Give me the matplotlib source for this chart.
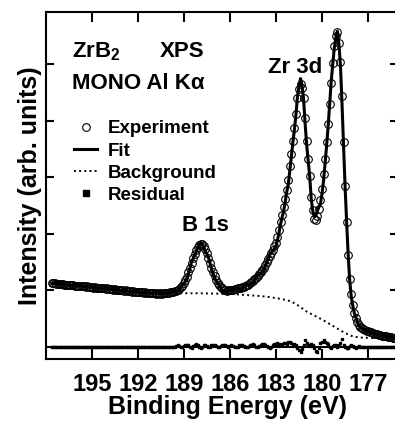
import numpy as np
import matplotlib
matplotlib.use("Agg")
import matplotlib.pyplot as plt
from matplotlib.lines import Line2D

plt.rcParams['font.family'] = ['Liberation Sans', 'DejaVu Sans']
plt.rcParams['font.weight'] = 'bold'
plt.rcParams['mathtext.fontset'] = 'custom'
plt.rcParams['mathtext.rm'] = 'Liberation Sans:bold'
plt.rcParams['mathtext.bf'] = 'Liberation Sans:bold'

# binding energy grid of the measurement (197.6 -> 175.2 eV, 0.1 eV step)
energy = np.linspace(197.6, 175.2, 225)

experiment = [
    # 197.6 - 190.1
    1.12, 1.125, 1.12, 1.115, 1.115, 1.11, 1.105, 1.11, 1.10, 1.095,
    1.10, 1.09, 1.09, 1.085, 1.09, 1.08, 1.08, 1.075, 1.08, 1.07,
    1.065, 1.07, 1.06, 1.065, 1.055, 1.05, 1.055, 1.045, 1.05, 1.04,
    1.045, 1.035, 1.04, 1.03, 1.03, 1.025, 1.03, 1.02, 1.025, 1.015,
    1.01, 1.015, 1.005, 1.01, 1.0, 0.995, 1.0, 0.99, 0.995, 0.985,
    0.98, 0.985, 0.975, 0.98, 0.97, 0.975, 0.965, 0.97, 0.96, 0.965,
    0.955, 0.96, 0.95, 0.955, 0.95, 0.945, 0.95, 0.945, 0.94, 0.945,
    0.94, 0.945, 0.94, 0.945, 0.95, 0.95,
    # 190.0 - 186.1  (B 1s)
    0.955, 0.96, 0.965, 0.97, 0.98, 0.99, 1.005, 1.025, 1.05, 1.08,
    1.12, 1.175, 1.24, 1.315, 1.395, 1.48, 1.565, 1.645, 1.716, 1.772,
    1.808, 1.82, 1.81, 1.777, 1.721, 1.65, 1.57, 1.485, 1.40, 1.32,
    1.245, 1.18, 1.125, 1.085, 1.055, 1.03, 1.005, 0.995, 0.99, 0.995,
    # 186.0 - 183.1
    1.0, 1.005, 1.01, 1.015, 1.02, 1.03, 1.04, 1.045, 1.05, 1.06,
    1.07, 1.085, 1.10, 1.12, 1.14, 1.165, 1.19, 1.22, 1.25, 1.285,
    1.32, 1.36, 1.40, 1.45, 1.50, 1.555, 1.61, 1.665, 1.72, 1.775,
    # 183.0 - 181.5
    1.83, 1.95, 2.07, 2.20, 2.33, 2.47, 2.62, 2.78, 2.95, 3.20,
    3.42, 3.65, 3.88, 4.12, 4.40, 4.56,
    # 181.4 - 180.5  (Zr 3d3/2)
    4.66, 4.58, 4.40, 4.06, 3.65, 3.32, 3.02, 2.65, 2.42, 2.27,
    # 180.4 - 179.1
    2.25, 2.32, 2.44, 2.60, 2.80, 3.05, 3.32, 3.62, 3.95, 4.30,
    4.68, 5.02, 5.32, 5.50,
    # 179.0 - 177.7  (Zr 3d5/2)
    5.58, 5.38, 5.05, 4.45, 3.62, 2.85, 2.20, 1.62, 1.20, 0.93,
    0.74, 0.60, 0.50, 0.43,
    # 177.6 - 175.2
    0.39, 0.35, 0.33, 0.31, 0.30, 0.28, 0.27, 0.26, 0.25, 0.24,
    0.23, 0.22, 0.215, 0.21, 0.20, 0.195, 0.19, 0.185, 0.18, 0.175,
    0.17, 0.165, 0.16, 0.16, 0.155,
]

# residual (experiment - fit), non-zero between 189.5 and 177.5 eV
residual = [0.0] * 81 + [
    0.01, 0.02, 0.01, 0.0, -0.01, 0.01,
    0.02, 0.03, 0.02, 0.0, -0.02, 0.01, 0.03, 0.04, 0.02, 0.0,
    -0.02, -0.01, 0.02, 0.03, 0.01, -0.01, 0.0, 0.02, 0.03, 0.02,
    0.01, 0.0, -0.01, 0.01, 0.02, 0.03, 0.02, 0.01, 0.0, 0.01,
    0.02, 0.01, 0.0, -0.01, 0.0, 0.02, 0.03, 0.02, 0.01, 0.0,
    -0.01, 0.0, 0.02, 0.03, 0.04, 0.02, 0.0, -0.01, 0.01, 0.03,
    0.04, 0.05, 0.03, 0.01, 0.0, -0.02, 0.0, 0.02, 0.04, 0.05,
    0.06, 0.05, 0.03, 0.04, 0.07, 0.06, 0.04, 0.08, 0.09, 0.06,
    0.03, 0.04, 0.02, -0.03, -0.06, -0.09, -0.05, 0.02, 0.11, 0.07,
    0.03, 0.01, 0.04, 0.02, -0.03, -0.07, -0.09, -0.03, 0.07, 0.09,
    0.11, 0.08, 0.06, 0.04, 0.0, -0.02, 0.01, 0.03, 0.02, -0.01,
    0.02, 0.06, 0.13, 0.03, -0.01, -0.03, -0.03, 0.01, 0.03, 0.01,
    0.0, -0.02, -0.01, 0.01, 0.0,
] + [0.0] * 23

# Shirley-type background
bg_energy = [197.6, 197, 196, 195, 194, 193, 192, 191, 190, 189, 188, 187,
             186, 185, 184, 183.5, 183, 182.5, 182, 181.5, 181, 180.5, 180,
             179.5, 179, 178.5, 178, 177.5, 177, 176, 175.2]
background = [1.11, 1.10, 1.08, 1.055, 1.025, 0.995, 0.965, 0.945, 0.945,
              0.945, 0.945, 0.94, 0.935, 0.915, 0.895, 0.88, 0.86, 0.835,
              0.80, 0.72, 0.62, 0.55, 0.48, 0.40, 0.32, 0.24, 0.18, 0.16,
              0.155, 0.15, 0.145]

experiment = np.array(experiment)
residual = np.array(residual)
fit = experiment - residual

x_ticks = [195, 192, 189, 186, 183, 180, 177]

fig = plt.figure(figsize=(3.95, 4.23), dpi=100)
ax = fig.add_axes([45.7 / 395, 1 - 359 / 423, (398 - 45.7) / 395, (359 - 12) / 423])

ax.axhline(0, color='black', lw=1.5, zorder=1)
ax.plot(energy, residual, ls='none', marker='s', ms=1.6, color='black')
ax.plot(bg_energy, background, ls=':', lw=1.4, color='black')
ax.plot(energy, experiment, ls='none', marker='o', ms=5.5, mfc='none',
        mec='black', mew=0.8)
ax.plot(energy, fit, ls='-', lw=2.2, color='black')

ax.set_xlim(198.0, 175.05)
ax.set_ylim(-0.22, 5.93)
ax.set_xticks(x_ticks)
ax.set_xticklabels([str(t) for t in x_ticks])
ax.set_yticks([0, 1, 2, 3, 4, 5])
ax.set_yticklabels([])
ax.tick_params(axis='x', direction='in', length=7, width=1.5, top=True,
               labelsize=17, pad=10)
ax.tick_params(axis='y', direction='in', length=6, width=1.5, right=True)
for s in ax.spines.values():
    s.set_linewidth(1.5)

ax.set_xlabel('Binding Energy (eV)', fontsize=18, fontweight='bold', labelpad=-1)
ax.xaxis.set_label_coords(0.515, -0.105)
ax.set_ylabel('Intensity (arb. units)', fontsize=18, fontweight='bold', labelpad=-1)

ax.text(196.3, 5.13, r'ZrB$_{2}$', fontsize=16)
ax.text(190.55, 5.13, 'XPS', fontsize=16)
ax.text(196.3, 4.56, 'MONO Al K\u03b1', fontsize=16)
ax.text(183.5, 4.85, 'Zr 3d', fontsize=16)
ax.text(189.15, 2.05, 'B 1s', fontsize=16)

handles = [
    Line2D([], [], ls='none', marker='o', ms=5.5, mfc='none', mec='black', mew=0.8),
    Line2D([], [], ls='-', lw=2.2, color='black'),
    Line2D([], [], ls=':', lw=1.4, color='black'),
    Line2D([], [], ls='none', marker='s', ms=5, color='black'),
]
ax.legend(handles, ['Experiment', 'Fit', 'Background', 'Residual'],
          loc='upper left', bbox_to_anchor=(0.08, 0.688), frameon=False,
          fontsize=13.5, handlelength=1.25, handletextpad=0.55, labelspacing=0.27,
          borderpad=0, borderaxespad=0)

fig.savefig('out.png', dpi=100)
